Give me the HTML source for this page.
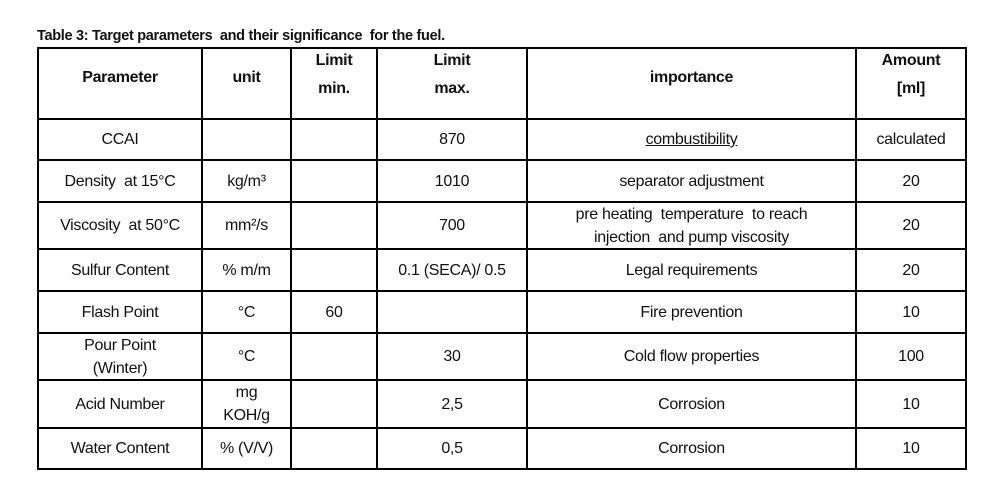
<!DOCTYPE html>
<html><head><meta charset="utf-8"><style>
body{margin:0;width:990px;height:487px;background:#fff;position:relative;overflow:hidden;font-family:"Liberation Sans",Arial,sans-serif;color:#111}
.h{position:absolute;height:2px;background:#000}
.v{position:absolute;width:2px;background:#000}
.c{position:absolute;display:flex;align-items:center;justify-content:center;text-align:center;font-size:16px;line-height:23px;letter-spacing:-0.3px;box-sizing:border-box}
</style></head><body>
<div style="position:absolute;left:37px;top:28px;font-size:14.5px;font-weight:bold;letter-spacing:-0.3px">Table 3: Target parameters &nbsp;and their significance &nbsp;for the fuel.</div>
<div id="g"></div>
<script>
var X=[37,201,290,376,526,855,965],Y=[47,118,159,201,248,290,332,379,427,468];
var h='';
Y.forEach(function(y){h+='<div class="h" style="left:37px;width:930px;top:'+y+'px"></div>'});
X.forEach(function(x){h+='<div class="v" style="top:47px;height:423px;left:'+x+'px"></div>'});
var R=[
['<b>Parameter</b>','<b>unit</b>','<b>Limit<br><span style="line-height:34px">min.</span></b>','<b>Limit<br><span style="line-height:34px">max.</span></b>','<b>importance</b>','<b>Amount<br><span style="line-height:34px">[ml]</span></b>'],
['CCAI','','','870','<u>combustibility</u>','calculated'],
['Density &nbsp;at 15°C','kg/m³','','1010','separator adjustment','20'],
['Viscosity &nbsp;at 50°C','mm²/s','','700','pre heating &nbsp;temperature &nbsp;to reach<br>injection &nbsp;and pump viscosity','20'],
['Sulfur Content','% m/m','','0.1 (SECA)/ 0.5','Legal requirements','20'],
['Flash Point','°C','60','','Fire prevention','10'],
['Pour Point<br>(Winter)','°C','','30','Cold flow properties','100'],
['Acid Number','mg<br>KOH/g','','2,5','Corrosion','10'],
['Water Content','% (V/V)','','0,5','Corrosion','10']];
R.forEach(function(r,i){r.forEach(function(t,j){
var pb=i==0?'padding-bottom:12px;':'';
h+='<div class="c" style="'+pb+'left:'+(X[j]+2)+'px;width:'+(X[j+1]-X[j]-2)+'px;top:'+(Y[i]+2)+'px;height:'+(Y[i+1]-Y[i]-2)+'px">'+t+'</div>';});});
document.getElementById('g').innerHTML=h;
</script>
</body></html>
